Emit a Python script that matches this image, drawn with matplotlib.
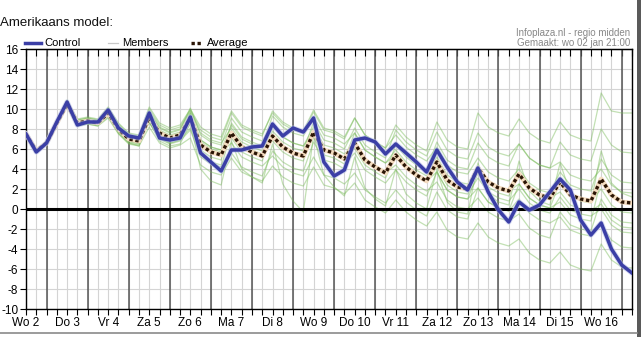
import matplotlib
matplotlib.use("Agg")
import matplotlib.pyplot as plt
from matplotlib.lines import Line2D
from matplotlib.patches import Rectangle
import numpy as np

# one value every 6 hours, starting Wo 2 12:00
day_labels = ["Wo 2", "Do 3", "Vr 4", "Za 5", "Zo 6", "Ma 7", "Di 8", "Wo 9",
              "Do 10", "Vr 11", "Za 12", "Zo 13", "Ma 14", "Di 15", "Wo 16"]

control = [7.5, 5.7, 6.6, 8.7, 10.7, 8.4, 8.7, 8.7, 9.9, 8.1, 7.3, 7.1,
           9.6, 7.1, 6.9, 7.1, 9.2, 5.6, 4.7, 3.8, 5.9, 5.9, 6.2, 6.3,
           8.5, 7.3, 8.1, 7.7, 9.1, 4.7, 3.3, 3.9, 6.9, 7.1, 6.7, 5.5,
           6.5, 5.6, 4.7, 3.7, 5.9, 4.2, 2.7, 1.9, 4.1, 1.7, -0.1, -1.3,
           0.7, -0.1, 0.4, 1.7, 3.0, 1.9, -1.1, -2.6, -1.4, -4.0, -5.6, -6.4]

average = [7.5, 5.8, 6.6, 8.6, 10.5, 8.6, 8.8, 8.6, 9.6, 8.0, 7.0, 6.8,
           9.2, 7.6, 7.1, 7.4, 9.1, 6.4, 5.7, 5.4, 7.6, 6.2, 5.7, 5.3,
           7.3, 6.2, 5.6, 5.3, 7.7, 5.9, 5.6, 5.0, 6.6, 4.9, 4.2, 3.6,
           5.4, 4.2, 3.4, 2.8, 4.7, 2.9, 2.2, 2.0, 4.1, 2.7, 2.1, 1.8,
           3.5, 2.1, 1.4, 1.1, 2.7, 1.4, 1.0, 0.8, 3.0, 1.4, 0.7, 0.6]

members = [
    [7.5, 5.8, 6.6, 8.6, 10.8, 8.9, 9.1, 8.9, 10.1, 8.5, 7.5, 7.3,
     10.0, 8.4, 7.9, 8.2, 9.9, 7.9, 7.2, 6.9, 9.6, 8.2, 7.7, 7.3,
     9.8, 8.7, 8.1, 7.8, 9.9, 8.1, 7.8, 7.2, 9.1, 7.4, 6.7, 6.1,
     8.4, 7.2, 6.4, 5.8, 8.7, 6.9, 6.2, 6.0, 9.6, 8.2, 7.6, 7.3,
     9.0, 7.6, 6.9, 6.6, 8.7, 7.4, 7.0, 6.8, 11.6, 9.8, 9.6, 9.6],
    [7.5, 5.8, 6.6, 8.6, 10.2, 8.3, 8.5, 8.3, 9.1, 7.5, 6.5, 6.3,
     8.2, 6.6, 6.1, 6.4, 7.1, 4.4, 3.7, 3.4, 5.1, 3.7, 3.2, 2.8,
     4.3, 3.2, 2.6, 2.3, 4.2, 2.4, 2.1, 1.5, 2.6, 0.9, 0.2, -0.4,
     0.9, -0.3, -1.1, -1.7, -0.3, -2.1, -2.8, -3.0, -1.4, -2.8, -3.4, -3.7,
     -3.0, -4.4, -5.1, -5.4, -4.3, -5.6, -6.0, -6.2, -3.5, -5.1, -5.8, -5.9],
    [7.4, 5.9, 6.7, 8.7, 10.7, 8.8, 9.0, 8.8, 9.3, 7.7, 6.7, 6.5,
     9.7, 8.1, 7.6, 7.9, 10.1, 7.4, 6.7, 6.4, 9.1, 7.7, 7.2, 6.8,
     8.3, 7.2, 6.6, 6.3, 8.2, 6.4, 6.1, 5.5, 6.6, 4.9, 4.2, 3.6,
     4.4, 3.2, 2.4, 1.8, 2.7, 0.9, 0.2, 0.0, 1.1, -0.3, -0.9, -1.2,
     -0.5, -1.9, -2.6, -2.9, -0.3, -1.6, -2.0, -2.2, 1.0, -0.6, -1.3, -1.4],
    [7.6, 5.7, 6.5, 8.5, 10.3, 8.4, 8.6, 8.4, 9.9, 8.3, 7.3, 7.1,
     8.7, 7.1, 6.6, 6.9, 8.1, 5.4, 4.7, 4.4, 5.6, 4.2, 3.7, 3.3,
     5.8, 4.7, 4.1, 3.8, 6.7, 4.9, 4.6, 4.0, 6.6, 4.9, 4.2, 3.6,
     6.4, 5.2, 4.4, 3.8, 6.7, 4.9, 4.2, 4.0, 6.6, 5.2, 4.6, 4.3,
     6.5, 5.1, 4.4, 4.1, 6.7, 5.4, 5.0, 4.8, 8.0, 6.4, 5.7, 5.6],
    [7.4, 5.9, 6.7, 8.7, 10.9, 9.0, 9.2, 9.0, 10.2, 8.6, 7.6, 7.4,
     10.2, 8.6, 8.1, 8.4, 10.0, 8.2, 7.5, 7.2, 9.8, 8.4, 7.9, 7.5,
     9.6, 8.5, 7.9, 7.6, 9.7, 7.9, 7.6, 7.0, 9.1, 7.4, 6.7, 6.1,
     7.4, 6.2, 5.4, 4.8, 6.2, 4.4, 3.7, 3.5, 5.1, 3.7, 3.1, 2.8,
     4.0, 2.6, 1.9, 1.6, 3.7, 2.4, 2.0, 1.8, 5.0, 3.4, 2.7, 2.6],
    [7.5, 5.7, 6.6, 8.6, 10.4, 8.5, 8.7, 8.5, 9.4, 7.6, 6.6, 6.3,
     8.8, 6.8, 6.3, 6.5, 8.6, 4.0, 2.8, 2.4, 6.8, 4.0, 3.2, 2.6,
     6.5, 2.5, 0.8, -0.3, 7.4, 3.4, 2.2, 1.3, 5.2, 2.1, 1.0, 0.3,
     4.0, 1.5, 0.6, 0.0, 3.9, 0.7, -0.3, -0.5, 4.6, 1.5, 0.7, 0.4,
     4.8, 1.8, 0.8, 0.4, 4.6, 1.6, 0.8, 0.6, 5.8, 2.6, 1.6, 1.2],
    [7.5, 5.8, 6.6, 8.6, 10.6, 8.7, 8.9, 8.7, 9.8, 8.2, 7.2, 7.0,
     9.5, 7.9, 7.4, 7.7, 9.6, 6.9, 6.2, 5.9, 8.4, 7.0, 6.5, 6.1,
     7.3, 6.2, 5.6, 5.3, 7.2, 5.4, 5.1, 4.5, 5.6, 3.9, 3.2, 2.6,
     3.9, 2.7, 1.9, 1.3, 3.7, 1.9, 1.2, 1.0, 3.6, 2.2, 1.6, 1.3,
     3.5, 2.1, 1.4, 1.1, 1.7, 0.4, 0.0, -0.2, 0.5, -1.1, -1.8, -1.9],
    [7.5, 5.8, 6.6, 8.6, 10.4, 8.5, 8.7, 8.5, 9.4, 7.8, 6.8, 6.6,
     8.9, 7.3, 6.8, 7.1, 9.6, 6.9, 6.2, 5.9, 7.1, 5.7, 5.2, 4.8,
     7.8, 6.7, 6.1, 5.8, 8.7, 6.9, 6.6, 6.0, 8.1, 6.4, 5.7, 5.1,
     7.9, 6.7, 5.9, 5.3, 7.7, 5.9, 5.2, 5.0, 7.6, 6.2, 5.6, 5.3,
     6.5, 5.1, 4.4, 4.1, 4.7, 3.4, 3.0, 2.8, 4.0, 2.4, 1.7, 1.6],
    [7.5, 5.9, 6.7, 8.6, 10.7, 8.8, 9.0, 8.8, 10.0, 8.4, 7.4, 7.2,
     8.7, 7.1, 6.6, 6.9, 8.6, 5.9, 5.2, 4.9, 8.6, 7.2, 6.7, 6.3,
     9.3, 8.2, 7.6, 7.3, 9.2, 7.4, 7.1, 6.5, 7.6, 5.9, 5.2, 4.6,
     5.4, 4.2, 3.4, 2.8, 3.7, 1.9, 1.2, 1.0, 2.1, 0.7, 0.1, -0.2,
     1.0, -0.4, -1.1, -1.4, -0.8, -2.1, -2.5, -2.7, -1.5, -3.1, -3.8, -3.9],
    [7.5, 5.7, 6.5, 8.6, 10.3, 8.4, 8.6, 8.4, 9.2, 7.6, 6.6, 6.4,
     9.4, 7.8, 7.3, 7.6, 9.4, 6.7, 6.0, 5.7, 6.6, 5.2, 4.7, 4.3,
     5.3, 4.2, 3.6, 3.3, 5.2, 3.4, 3.1, 2.5, 3.6, 1.9, 1.2, 0.6,
     1.9, 0.7, -0.1, -0.7, 1.7, -0.1, -0.8, -1.0, 2.1, 0.7, 0.1, -0.2,
     2.5, 1.1, 0.4, 0.1, 2.7, 1.4, 1.0, 0.8, 2.0, 0.4, -0.3, -0.4],
    [7.5, 5.8, 6.6, 8.6, 10.8, 8.9, 9.1, 8.9, 9.4, 7.8, 6.8, 6.6,
     9.8, 8.2, 7.7, 8.0, 9.8, 7.6, 6.9, 6.6, 8.1, 6.7, 6.2, 5.8,
     6.8, 5.7, 5.1, 4.8, 7.7, 5.9, 5.6, 5.0, 7.6, 5.9, 5.2, 4.6,
     5.9, 4.7, 3.9, 3.3, 5.2, 3.4, 2.7, 2.5, 4.1, 2.7, 2.1, 1.8,
     2.5, 1.1, 0.4, 0.1, 0.7, -0.6, -1.0, -1.2, 3.0, 1.4, 0.7, 0.6],
    [7.5, 5.8, 6.6, 8.6, 10.2, 8.3, 8.5, 8.3, 9.8, 8.2, 7.2, 7.0,
     8.6, 7.0, 6.5, 6.8, 7.9, 5.2, 4.5, 4.2, 7.8, 6.4, 5.9, 5.5,
     8.3, 7.2, 6.6, 6.3, 7.7, 5.9, 5.6, 5.0, 6.1, 4.4, 3.7, 3.1,
     5.4, 4.2, 3.4, 2.8, 4.2, 2.4, 1.7, 1.5, 3.1, 1.7, 1.1, 0.8,
     2.0, 0.6, -0.1, -0.4, 1.2, -0.1, -0.5, -0.7, 0.0, -1.6, -2.3, -2.4],
]

plt.rcParams['font.family'] = ['Liberation Sans', 'DejaVu Sans']
plt.rcParams['axes.unicode_minus'] = False

W, H = 641, 337
fig = plt.figure(figsize=(W / 100, H / 100), dpi=100)
fig.patch.set_facecolor('white')


def fx(px):
    return px / W


def fy(py):
    return 1 - py / H


ax = fig.add_axes([fx(26), fy(309), fx(632) - fx(26), fy(49) - fy(309)])

hours = np.arange(len(control)) * 6
end_h = hours[-1]

# grid
for h in range(0, end_h + 1, 6):
    ax.axvline(h, color='#d4d4d4', lw=0.8, zorder=0)
for v in range(-10, 17, 2):
    ax.axhline(v, color='#d4d4d4', lw=0.8, zorder=0)
for h in range(12, end_h + 1, 24):
    ax.axvline(h, color='#555555', lw=1.1, zorder=1)

for m in members:
    ax.plot(hours, m, color='#78bb58', lw=0.9, alpha=0.45, zorder=2)
ax.axhline(0, color='black', lw=2.2, zorder=3)
ax.plot(hours, average, color='#f4dcc0', lw=3.4, zorder=4)
ax.plot(hours, average, color='#2a1505', lw=2.4, ls=(0, (1, 0.8)), zorder=5)
ax.plot(hours, control, color='#b8bfe8', lw=3.8, alpha=0.6, zorder=6)
ax.plot(hours, control, color='#3b3fa6', lw=2.5, zorder=7)

ax.set_xlim(0, end_h)
ax.set_ylim(-10, 16)
ax.set_yticks(range(-10, 17, 2))
ax.set_xticks(np.arange(len(day_labels)) * 24)
ax.set_xticklabels(day_labels)
ax.set_xticks(range(0, end_h + 1, 6), minor=True)
ax.tick_params(axis='both', which='both', labelsize=8.5, color='black',
               length=4, width=0.8, pad=2)
ax.tick_params(axis='y', pad=1.5)
for s in ax.spines.values():
    s.set_color('black')
    s.set_linewidth(1.0)

top = ax.secondary_xaxis('top')
top.set_xticks(range(0, end_h + 1, 6))
top.tick_params(direction='in', length=5, width=0.8, labeltop=False)
top.set_xticklabels([])

# title and legend
fig.text(fx(0), fy(26), "Amerikaans model:", fontsize=9.5, va='baseline', color='#111111')
ly = fy(42.5)
fig.add_artist(Line2D([fx(25), fx(41)], [ly, ly], color='#3b3fa6', lw=2.5))
fig.text(fx(44), ly, "Control", fontsize=8, va='center')
fig.add_artist(Line2D([fx(108), fx(118)], [ly, ly], color='#c8c8c8', lw=0.9))
fig.text(fx(122), ly, "Members", fontsize=8, va='center')
fig.add_artist(Line2D([fx(191), fx(203)], [ly, ly], color='#2a1505', lw=2.4, ls=(0, (1, 0.8))))
fig.text(fx(207), ly, "Average", fontsize=8, va='center')

fig.text(fx(630), fy(33), "Infoplaza.nl - regio midden", fontsize=7, color='#888888',
         ha='right', va='center')
fig.text(fx(630), fy(43), "Gemaakt: wo 02 jan 21:00", fontsize=7, color='#888888',
         ha='right', va='center')

# page frame
fig.add_artist(Rectangle((fx(637), 0), 1 - fx(637), 1, transform=fig.transFigure,
                         color='#5a5a5a', lw=0))
fig.add_artist(Line2D([0, fx(637)], [fy(333), fy(333)], color='#8a8a8a', lw=1.2))

fig.savefig("out.png", dpi=100)
